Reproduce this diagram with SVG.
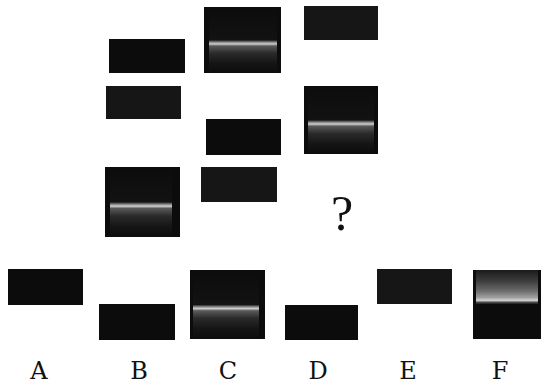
<svg xmlns="http://www.w3.org/2000/svg" width="544" height="386" viewBox="0 0 544 386">
<defs>
<style>
.blk{fill:#0c0c0c}
.spk{fill:#161616}
.lbl{font-family:"DejaVu Serif","Liberation Serif",serif;font-size:24px;fill:#111;text-anchor:middle}
.q{font-family:"Liberation Serif","Times New Roman",serif;font-size:50px;fill:#111;text-anchor:middle}
</style>
<linearGradient id="band" x1="0" y1="0" x2="0" y2="1">
<stop offset="0" stop-color="#0c0c0c"/>
<stop offset="0.50" stop-color="#121212"/>
<stop offset="0.535" stop-color="#8c8c8c"/>
<stop offset="0.56" stop-color="#d0d0d0"/>
<stop offset="0.59" stop-color="#5a5a5a"/>
<stop offset="0.70" stop-color="#2a2a2a"/>
<stop offset="0.85" stop-color="#151515"/>
<stop offset="1" stop-color="#0c0c0c"/>
</linearGradient>
<linearGradient id="bandF" x1="0" y1="0" x2="0" y2="1">
<stop offset="0" stop-color="#1a1a1a"/>
<stop offset="0.15" stop-color="#3a3a3a"/>
<stop offset="0.30" stop-color="#6a6a6a"/>
<stop offset="0.40" stop-color="#a0a0a0"/>
<stop offset="0.44" stop-color="#d4d4d4"/>
<stop offset="0.47" stop-color="#4a4a4a"/>
<stop offset="0.50" stop-color="#0c0c0c"/>
<stop offset="1" stop-color="#0c0c0c"/>
</linearGradient>
</defs>
<rect width="544" height="386" fill="#ffffff"/>
<g id="r1c1"><rect class="blk" x="109" y="39" width="76" height="34"/></g>
<g id="r1c2"><rect class="blk" x="204" y="7" width="77" height="66"/><rect x="209" y="7" width="68" height="66" fill="url(#band)"/></g>
<g id="r1c3"><rect class="spk" x="304" y="6" width="74" height="34"/></g>
<g id="r2c1"><rect class="spk" x="106" y="86" width="75" height="33"/></g>
<g id="r2c2"><rect class="blk" x="206" y="119" width="75" height="36"/></g>
<g id="r2c3"><rect class="blk" x="304" y="86" width="74" height="68"/><rect x="308" y="86" width="66" height="68" fill="url(#band)"/></g>
<g id="r3c1"><rect class="blk" x="105" y="167" width="75" height="70"/><rect x="110" y="167" width="62" height="70" fill="url(#band)"/></g>
<g id="r3c2"><rect class="spk" x="201" y="167" width="76" height="35"/></g>
<g id="r3c3"><text class="q" x="342" y="230">?</text></g>
<g id="optA"><rect class="blk" x="8" y="269" width="75" height="36"/><text class="lbl" x="39" y="379">A</text></g>
<g id="optB"><rect class="blk" x="99" y="304" width="76" height="36"/><text class="lbl" x="139" y="379">B</text></g>
<g id="optC"><rect class="blk" x="190" y="270" width="75" height="69"/><rect x="193" y="270" width="66" height="69" fill="url(#band)"/><text class="lbl" x="228" y="379">C</text></g>
<g id="optD"><rect class="blk" x="285" y="305" width="73" height="35"/><text class="lbl" x="318" y="379">D</text></g>
<g id="optE"><rect class="spk" x="377" y="269" width="75" height="35"/><text class="lbl" x="408" y="379">E</text></g>
<g id="optF"><rect class="blk" x="473" y="270" width="68" height="69"/><rect x="476" y="270" width="62" height="69" fill="url(#bandF)"/><text class="lbl" x="500" y="379">F</text></g>
</svg>
